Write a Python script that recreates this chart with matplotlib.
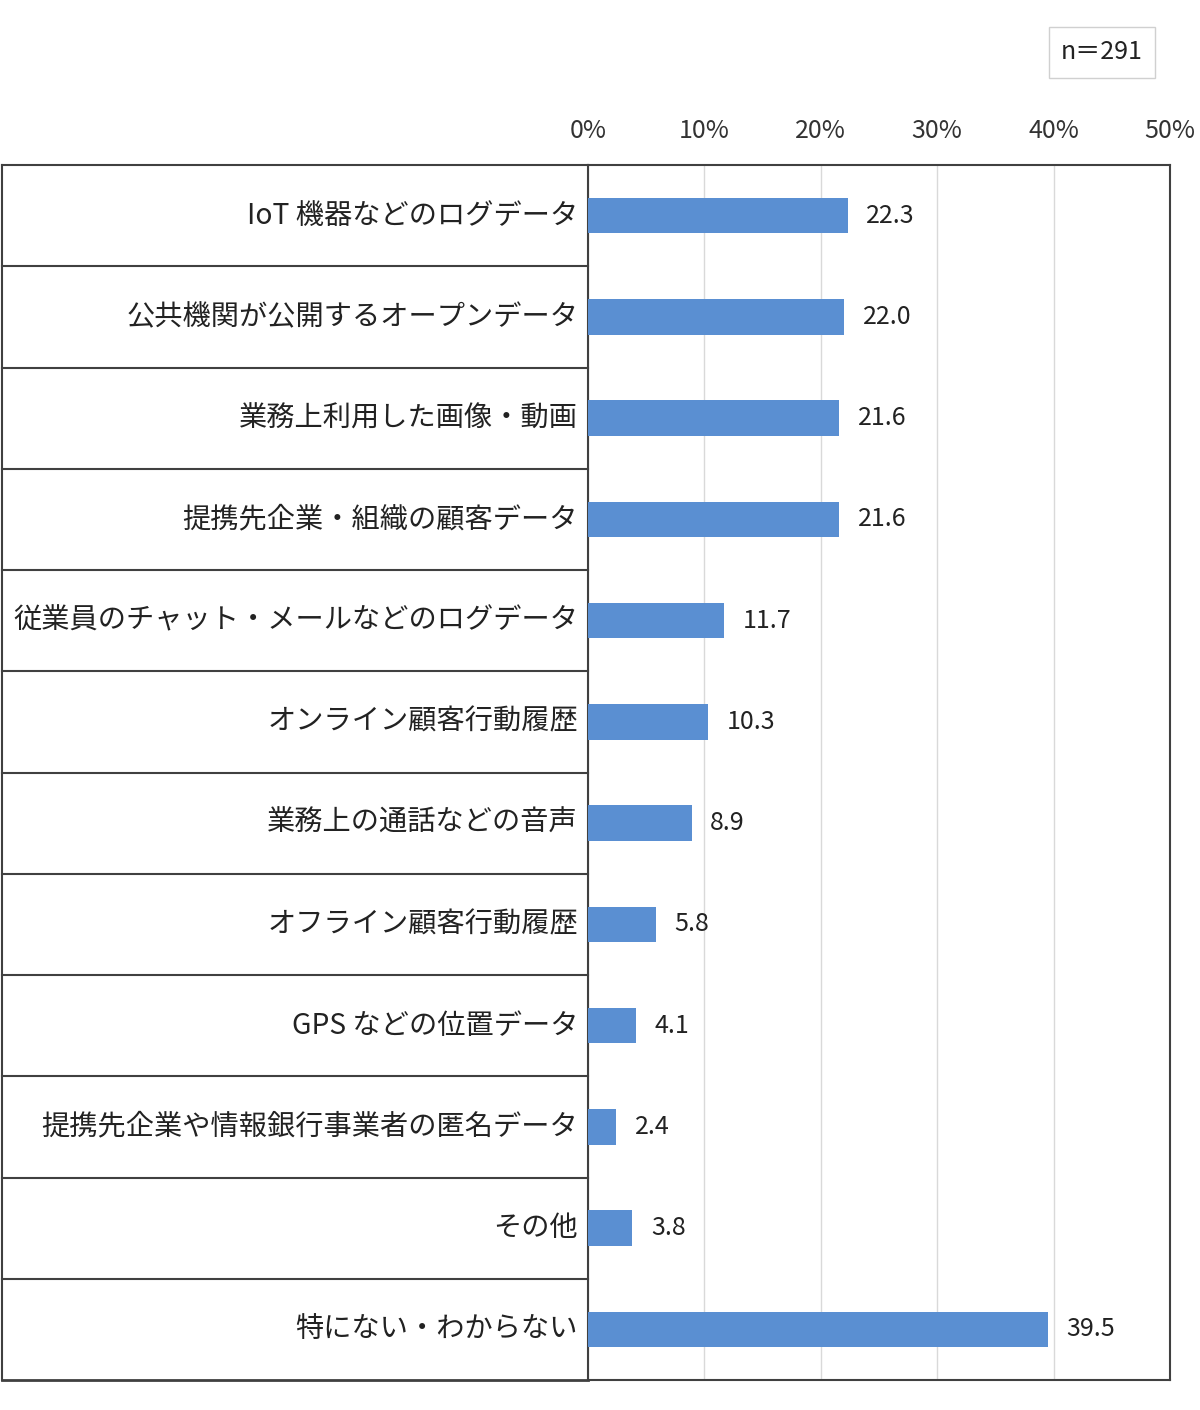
import matplotlib.pyplot as plt
import matplotlib.transforms as mtransforms
import numpy as np

plt.rcParams['font.family'] = ['Noto Sans CJK JP', 'DejaVu Sans']

labels = ['IoT 機器などのログデータ',
          '公共機関が公開するオープンデータ',
          '業務上利用した画像・動画',
          '提携先企業・組織の顧客データ',
          '従業員のチャット・メールなどのログデータ',
          'オンライン顧客行動履歴',
          '業務上の通話などの音声',
          'オフライン顧客行動履歴',
          'GPS などの位置データ',
          '提携先企業や情報銀行事業者の匿名データ',
          'その他',
          '特にない・わからない']
values = [22.3, 22.0, 21.6, 21.6, 11.7, 10.3, 8.9, 5.8, 4.1, 2.4, 3.8, 39.5]
ticks = [0, 10, 20, 30, 40, 50]
n_text = 'n＝291'

fig = plt.figure(figsize=(12, 14.1), dpi=100)
ax = fig.add_axes([588/1200, 30/1410, 582/1200, 1215/1410])

y = np.arange(len(labels))
ax.barh(y, values, height=0.35, color='#5A8FD2', zorder=3)
for yi, v in zip(y, values):
    ax.text(v + 1.6, yi, f'{v:.1f}', va='center', ha='left', fontsize=18, color='#222222')

ax.set_xlim(0, 50)
ax.set_ylim(len(labels) - 0.5, -0.5)
ax.set_xticks(ticks)
ax.set_xticklabels([f'{t}%' for t in ticks], fontsize=18, color='#333333')
ax.xaxis.tick_top()
ax.tick_params(axis='x', length=0, pad=15)
ax.set_yticks([])
ax.grid(axis='x', color='#d9d9d9', linewidth=1, zorder=0)
for s in ax.spines.values():
    s.set_color('#404040')
    s.set_linewidth(1.5)

# label table on the left
tr = mtransforms.blended_transform_factory(ax.transAxes, ax.transData)
x_left = (2 - 588) / 582
for yi, lab in zip(y, labels):
    ax.text(-0.017, yi, lab, transform=tr, ha='right', va='center', fontsize=20.3, color='#222222')
for b in np.arange(0.5, len(labels) - 0.5, 1):
    ax.plot([x_left, 0], [b, b], transform=tr, color='#404040', lw=1.5, clip_on=False)
ax.plot([x_left, 0], [-0.5, -0.5], transform=tr, color='#404040', lw=1.5, clip_on=False)
ax.plot([x_left, 0], [len(labels) - 0.5, len(labels) - 0.5], transform=tr, color='#404040', lw=2, clip_on=False)
ax.plot([x_left, x_left], [-0.5, len(labels) - 0.5], transform=tr, color='#404040', lw=1.5, clip_on=False)

fig.text(1102/1200, 1 - 52/1410, n_text, ha='center', va='center', fontsize=18, color='#222222',
         bbox=dict(boxstyle='square,pad=0.5', facecolor='white', edgecolor='#d0d0d0'))

fig.savefig('out.png', dpi=100)
